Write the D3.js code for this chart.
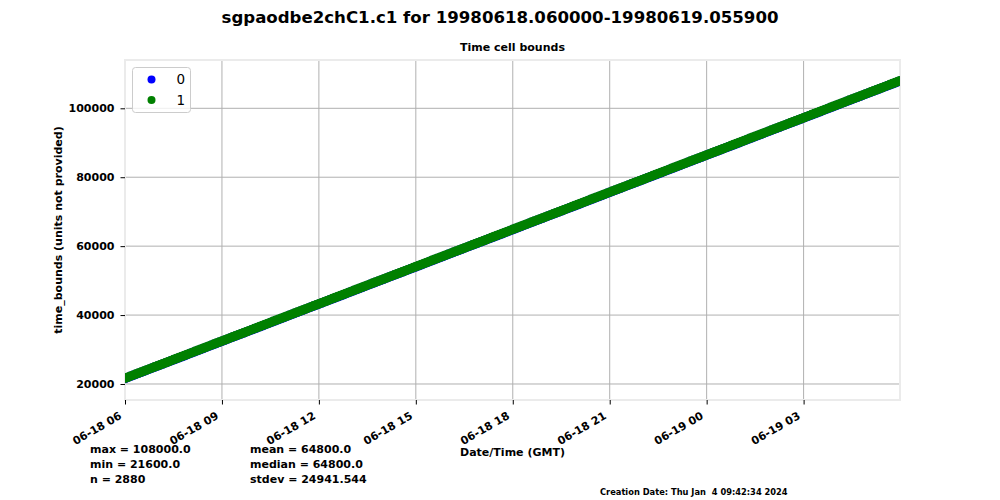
<!DOCTYPE html>
<html lang="en">
<head>
  <meta charset="UTF-8">
  <title>sgpaodbe2chC1.c1 time bounds</title>
  <script src="https://cdn.jsdelivr.net/npm/d3@7"></script>
  <style>
    body { margin: 0; background: #fff; }
    text { font-family: "DejaVu Sans", sans-serif; }
  </style>
</head>
<body>
<div id="grafica"></div>

<script>
// time_bounds column 0 (seconds since 1998-06-18 00:00 UTC), sampled every 5 min + last sample
tb0 = [
  21600, 21900, 22200, 22500, 22800, 23100, 23400, 23700, 24000, 24300, 24600, 24900,
  25200, 25500, 25800, 26100, 26400, 26700, 27000, 27300, 27600, 27900, 28200, 28500,
  28800, 29100, 29400, 29700, 30000, 30300, 30600, 30900, 31200, 31500, 31800, 32100,
  32400, 32700, 33000, 33300, 33600, 33900, 34200, 34500, 34800, 35100, 35400, 35700,
  36000, 36300, 36600, 36900, 37200, 37500, 37800, 38100, 38400, 38700, 39000, 39300,
  39600, 39900, 40200, 40500, 40800, 41100, 41400, 41700, 42000, 42300, 42600, 42900,
  43200, 43500, 43800, 44100, 44400, 44700, 45000, 45300, 45600, 45900, 46200, 46500,
  46800, 47100, 47400, 47700, 48000, 48300, 48600, 48900, 49200, 49500, 49800, 50100,
  50400, 50700, 51000, 51300, 51600, 51900, 52200, 52500, 52800, 53100, 53400, 53700,
  54000, 54300, 54600, 54900, 55200, 55500, 55800, 56100, 56400, 56700, 57000, 57300,
  57600, 57900, 58200, 58500, 58800, 59100, 59400, 59700, 60000, 60300, 60600, 60900,
  61200, 61500, 61800, 62100, 62400, 62700, 63000, 63300, 63600, 63900, 64200, 64500,
  64800, 65100, 65400, 65700, 66000, 66300, 66600, 66900, 67200, 67500, 67800, 68100,
  68400, 68700, 69000, 69300, 69600, 69900, 70200, 70500, 70800, 71100, 71400, 71700,
  72000, 72300, 72600, 72900, 73200, 73500, 73800, 74100, 74400, 74700, 75000, 75300,
  75600, 75900, 76200, 76500, 76800, 77100, 77400, 77700, 78000, 78300, 78600, 78900,
  79200, 79500, 79800, 80100, 80400, 80700, 81000, 81300, 81600, 81900, 82200, 82500,
  82800, 83100, 83400, 83700, 84000, 84300, 84600, 84900, 85200, 85500, 85800, 86100,
  86400, 86700, 87000, 87300, 87600, 87900, 88200, 88500, 88800, 89100, 89400, 89700,
  90000, 90300, 90600, 90900, 91200, 91500, 91800, 92100, 92400, 92700, 93000, 93300,
  93600, 93900, 94200, 94500, 94800, 95100, 95400, 95700, 96000, 96300, 96600, 96900,
  97200, 97500, 97800, 98100, 98400, 98700, 99000, 99300, 99600, 99900, 100200, 100500,
  100800, 101100, 101400, 101700, 102000, 102300, 102600, 102900, 103200, 103500, 103800, 104100,
  104400, 104700, 105000, 105300, 105600, 105900, 106200, 106500, 106800, 107100, 107400, 107700,
  107940
]

// time_bounds column 1
tb1 = [
  21660, 21960, 22260, 22560, 22860, 23160, 23460, 23760, 24060, 24360, 24660, 24960,
  25260, 25560, 25860, 26160, 26460, 26760, 27060, 27360, 27660, 27960, 28260, 28560,
  28860, 29160, 29460, 29760, 30060, 30360, 30660, 30960, 31260, 31560, 31860, 32160,
  32460, 32760, 33060, 33360, 33660, 33960, 34260, 34560, 34860, 35160, 35460, 35760,
  36060, 36360, 36660, 36960, 37260, 37560, 37860, 38160, 38460, 38760, 39060, 39360,
  39660, 39960, 40260, 40560, 40860, 41160, 41460, 41760, 42060, 42360, 42660, 42960,
  43260, 43560, 43860, 44160, 44460, 44760, 45060, 45360, 45660, 45960, 46260, 46560,
  46860, 47160, 47460, 47760, 48060, 48360, 48660, 48960, 49260, 49560, 49860, 50160,
  50460, 50760, 51060, 51360, 51660, 51960, 52260, 52560, 52860, 53160, 53460, 53760,
  54060, 54360, 54660, 54960, 55260, 55560, 55860, 56160, 56460, 56760, 57060, 57360,
  57660, 57960, 58260, 58560, 58860, 59160, 59460, 59760, 60060, 60360, 60660, 60960,
  61260, 61560, 61860, 62160, 62460, 62760, 63060, 63360, 63660, 63960, 64260, 64560,
  64860, 65160, 65460, 65760, 66060, 66360, 66660, 66960, 67260, 67560, 67860, 68160,
  68460, 68760, 69060, 69360, 69660, 69960, 70260, 70560, 70860, 71160, 71460, 71760,
  72060, 72360, 72660, 72960, 73260, 73560, 73860, 74160, 74460, 74760, 75060, 75360,
  75660, 75960, 76260, 76560, 76860, 77160, 77460, 77760, 78060, 78360, 78660, 78960,
  79260, 79560, 79860, 80160, 80460, 80760, 81060, 81360, 81660, 81960, 82260, 82560,
  82860, 83160, 83460, 83760, 84060, 84360, 84660, 84960, 85260, 85560, 85860, 86160,
  86460, 86760, 87060, 87360, 87660, 87960, 88260, 88560, 88860, 89160, 89460, 89760,
  90060, 90360, 90660, 90960, 91260, 91560, 91860, 92160, 92460, 92760, 93060, 93360,
  93660, 93960, 94260, 94560, 94860, 95160, 95460, 95760, 96060, 96360, 96660, 96960,
  97260, 97560, 97860, 98160, 98460, 98760, 99060, 99360, 99660, 99960, 100260, 100560,
  100860, 101160, 101460, 101760, 102060, 102360, 102660, 102960, 103260, 103560, 103860, 104160,
  104460, 104760, 105060, 105360, 105660, 105960, 106260, 106560, 106860, 107160, 107460, 107760,
  108000
]

seriesNames  = ['0', '1']
seriesColors = ['#0000ff', '#008000']
yTicks = [20000, 40000, 60000, 80000, 100000]
statsLeft  = ['max = 108000.0', 'min = 21600.0', 'n = 2880']
statsRight = ['mean = 64800.0', 'median = 64800.0', 'stdev = 24941.544']

ancho_total = 1000
alto_total  = 500
margin = { left: 125, right: 100, top: 60, bottom: 100 }
ancho = ancho_total - margin.left - margin.right
alto  = alto_total - margin.top - margin.bottom

base = Date.UTC(1998, 5, 18)
fs = 11

svg = d3
        .select('#grafica')
        .append('svg')
        .attr('width', ancho_total)
        .attr('height', alto_total)

svg.append('text')
   .attr('x', 500).attr('y', 23)
   .attr('text-anchor', 'middle')
   .attr('font-size', 16.6).attr('font-weight', 'bold')
   .text('sgpaodbe2chC1.c1 for 19980618.060000-19980619.055900')

g = svg
      .append('g')
      .attr('transform', 'translate(' + margin.left + ',' + margin.top + ')')

x = d3
      .scaleUtc()
      .domain([new Date(Date.UTC(1998, 5, 18, 6, 0)), new Date(Date.UTC(1998, 5, 19, 5, 59))])
      .range([0, ancho])
y = d3
      .scaleLinear()
      .domain([15357, 114016])
      .range([alto, 0])

xTicks = x.ticks(d3.utcHour.every(3))

// grid
g.append('g')
  .selectAll('line')
  .data(xTicks)
  .enter().append('line')
    .attr('x1', d => x(d)).attr('x2', d => x(d))
    .attr('y1', 0).attr('y2', alto)
    .attr('stroke', '#b0b0b0').attr('stroke-width', 1)
g.append('g')
  .selectAll('line')
  .data(yTicks)
  .enter().append('line')
    .attr('x1', 0).attr('x2', ancho)
    .attr('y1', d => y(d)).attr('y2', d => y(d))
    .attr('stroke', '#b0b0b0').attr('stroke-width', 1)

// frame
g.append('rect')
  .attr('x', 0).attr('y', 0)
  .attr('width', ancho).attr('height', alto)
  .attr('fill', 'none')
  .attr('stroke', '#ebebeb').attr('stroke-width', 2)

svg.append('clipPath').attr('id', 'clip')
   .append('rect').attr('width', ancho).attr('height', alto)

puntos = g.append('g').attr('clip-path', 'url(#clip)')
;[tb0, tb1].forEach((serie, k) => {
  puntos.append('g')
    .selectAll('circle')
    .data(serie)
    .enter().append('circle')
      .attr('cx', (d, i) => x(new Date(base + tb0[i] * 1000)))
      .attr('cy', d => y(d))
      .attr('r', 4.8)
      .attr('fill', seriesColors[k])
})

// axes
xAxis = g.append('g')
  .attr('transform', `translate(0, ${alto})`)
  .call(d3.axisBottom(x).tickValues(xTicks).tickSize(4.5).tickPadding(0).tickFormat(d3.utcFormat('%m-%d %H')))
xAxis.select('.domain').remove()
xAxis.selectAll('text')
  .attr('font-size', fs).attr('font-weight', 'bold')
  .attr('fill', '#000')
  .attr('text-anchor', 'end')
  .attr('y', 0).attr('dy', 0)
  .attr('transform', 'translate(-3, 18) rotate(-30)')

yAxis = g.append('g')
  .call(d3.axisLeft(y).tickValues(yTicks).tickSize(4.5).tickPadding(6).tickFormat(d3.format('d')))
yAxis.select('.domain').remove()
yAxis.selectAll('text')
  .attr('font-size', fs).attr('font-weight', 'bold').attr('fill', '#000')

svg.append('text')
   .attr('x', margin.left + ancho / 2).attr('y', 51)
   .attr('text-anchor', 'middle')
   .attr('font-size', 11).attr('font-weight', 'bold')
   .text('Time cell bounds')

svg.append('text')
   .attr('transform', 'translate(62,' + (margin.top + alto / 2) + ') rotate(-90)')
   .attr('text-anchor', 'middle')
   .attr('font-size', fs).attr('font-weight', 'bold')
   .text('time_bounds (units not provided)')

svg.append('text')
   .attr('x', margin.left + ancho / 2).attr('y', 456)
   .attr('text-anchor', 'middle')
   .attr('font-size', fs).attr('font-weight', 'bold')
   .text('Date/Time (GMT)')

// legend
leg = svg.append('g').attr('transform', 'translate(132.5, 67.5)')
leg.append('rect')
   .attr('width', 58).attr('height', 45).attr('rx', 3)
   .attr('fill', '#fff').attr('fill-opacity', 0.8)
   .attr('stroke', '#cccccc')
seriesNames.forEach((n, i) => {
  leg.append('circle')
     .attr('cx', 19).attr('cy', 12 + i * 20.5).attr('r', 4)
     .attr('fill', seriesColors[i])
  leg.append('text')
     .attr('x', 44).attr('y', 12 + i * 20.5).attr('dy', '0.36em')
     .attr('font-size', 13.5)
     .text(n)
})

// stats
statsLeft.forEach((s, i) => {
  svg.append('text')
     .attr('x', 90).attr('y', 453 + i * 15)
     .attr('font-size', fs).attr('font-weight', 'bold')
     .text(s)
})
statsRight.forEach((s, i) => {
  svg.append('text')
     .attr('x', 250).attr('y', 453 + i * 15)
     .attr('font-size', fs).attr('font-weight', 'bold')
     .text(s)
})

svg.append('text')
   .attr('x', 600).attr('y', 495)
   .attr('font-size', 8.3).attr('font-weight', 'bold')
   .style('white-space', 'pre')
   .text('Creation Date: Thu Jan  4 09:42:34 2024')
</script>
</body>
</html>
